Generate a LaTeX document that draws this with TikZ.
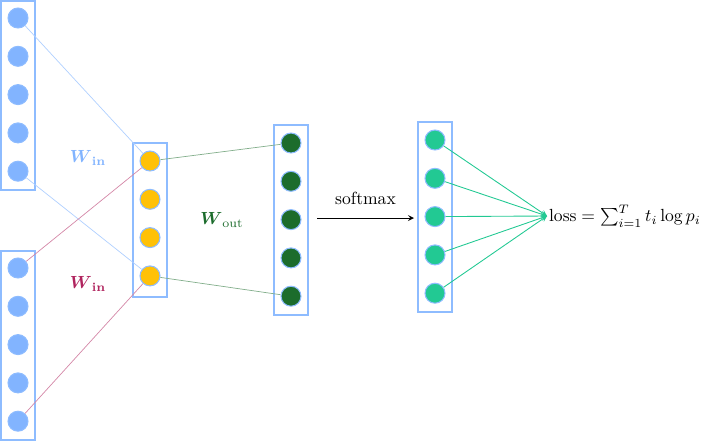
\documentclass[tikz,border=0pt]{standalone}
\usepackage{amsmath}
\usepackage{tikz}
\definecolor{boxblue}{HTML}{8EBCFF}
\definecolor{nnblue}{HTML}{82B4FF}
\definecolor{nnyellow}{HTML}{FFC107}
\definecolor{nngreen}{HTML}{1C6C2C}
\definecolor{nnteal}{HTML}{22C993}
\definecolor{nnmagenta}{HTML}{B0245E}

\begin{document}
\begin{tikzpicture}[
		x=0.02cm, y=-0.02cm,
		every node/.style={font=\normalsize},
		neuron/.style={
			circle,
			draw=boxblue,
			line width=0.6pt,
			minimum size=0.4cm,
			inner sep=0pt
		},
		layer/.style={
			draw=boxblue,
			line width=0.8pt,
			minimum width=0.68cm,
			inner sep=0pt
		},
		weight/.style={line width=0.4pt}
	]
		\useasboundingbox (0,0) rectangle (707,441);

		% layer boxes
		\node[layer, minimum height=3.78cm] (ctx-top) at (18,95.5) {};
		\node[layer, minimum height=3.78cm] (ctx-bot) at (18,345.5) {};
		\node[layer, minimum height=3.08cm] (hidden) at (150,220) {};
		\node[layer, minimum height=3.80cm] (output) at (291,220) {};
		\node[layer, minimum height=3.80cm] (soft) at (435,217) {};

		% neurons
		\foreach \i in {1,...,5} {
			\node[neuron, fill=nnblue] (top-\i) at (18,{18+38.3*(\i-1)}) {};
			\node[neuron, fill=nnblue] (bot-\i) at (18,{268+38.3*(\i-1)}) {};
			\node[neuron, fill=nngreen] (out-\i) at (291,{143+38.3*(\i-1)}) {};
			\node[neuron, fill=nnteal] (soft-\i) at (435,{140+38.3*(\i-1)}) {};
		}
		\foreach \i in {1,...,4}
			\node[neuron, fill=nnyellow] (hid-\i) at (150,{161+38.3*(\i-1)}) {};

		% weights
		\draw[weight, boxblue!70] (top-1) -- (hid-1);
		\draw[weight, boxblue!70] (top-5) -- (hid-4);
		\draw[weight, nnmagenta!55] (bot-1) -- (hid-1);
		\draw[weight, nnmagenta!55] (bot-5) -- (hid-4);
		\draw[weight, nngreen!55] (hid-1) -- (out-1);
		\draw[weight, nngreen!55] (hid-4) -- (out-5);

		\node[text=nnblue] (w-in-top) at (88,158)
			{$\boldsymbol{W}_{\textbf{in}}$};
		\node[text=nnmagenta] (w-in-bot) at (88,284)
			{$\boldsymbol{W}_{\textbf{in}}$};
		\node[text=nngreen] (w-out) at (222,220)
			{$\boldsymbol{W}_{\text{out}}$};

		% softmax step
		\coordinate (sm-start) at (317,218);
		\coordinate (sm-end) at (414,218);
		\draw[-stealth, line width=0.5pt] (sm-start) -- (sm-end)
			node[midway, above=4pt] (sm-label) {softmax};

		\node[anchor=west, inner sep=1pt] (loss) at (547,216)
			{$\mathrm{loss} = \sum_{i=1}^{T} t_i \log p_i$};
		\foreach \i in {1,...,5}
			\draw[-stealth, nnteal, line width=0.5pt] (soft-\i) -- (loss.west);
	\end{tikzpicture}
\end{document}
